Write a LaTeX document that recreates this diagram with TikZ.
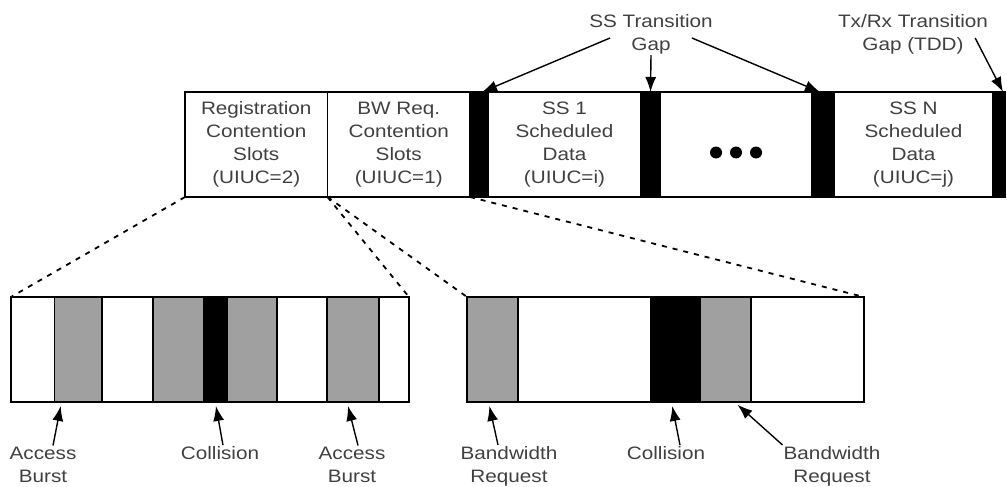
\documentclass[tikz,border=0pt]{standalone}
\usepackage{fontspec}
\setmainfont{Liberation Sans}[FakeStretch=1.15]
\usepackage{xcolor}
\usetikzlibrary{positioning,arrows.meta}

\definecolor{slotgray}{HTML}{A0A0A0}

\begin{document}
\begin{tikzpicture}[
  x=1pt, y=-1pt,
  slot/.style={draw, line width=1.5pt, minimum height=105pt, inner sep=0pt, outer sep=0pt,
               align=center, text=black!75, font=\fontsize{18}{23}\selectfont},
  gap/.style={slot, fill=black},
  lbl/.style={align=center, text=black!75, inner sep=1pt, font=\fontsize{18}{23}\selectfont},
  pointer/.style={-{Latex[length=15pt,width=11pt]}, line width=1.4pt},
  zoomline/.style={line width=1.8pt, dash pattern=on 5pt off 6pt}
]
\useasboundingbox (0,0) rectangle (1007,487);

% uplink subframe
\node[slot, minimum width=142.5pt] (reg) at (256.25,144.5) {Registration\\Contention\\Slots\\(UIUC=2)};
\node[slot, minimum width=142.5pt] (bwreq) at (398.75,144.5) {BW Req.\\Contention\\Slots\\(UIUC=1)};
\node[gap, minimum width=18pt] (gap1) at (479,144.5) {};
\node[slot, minimum width=153pt] (ss1) at (564.5,144.5) {SS 1\\Scheduled\\Data\\(UIUC=i)};
\node[gap, minimum width=19pt] (gap2) at (650.5,144.5) {};
\node[slot, minimum width=152pt] (dots) at (736,144.5) {};
\node[gap, minimum width=22pt] (gap3) at (823,144.5) {};
\node[slot, minimum width=159pt] (ssn) at (913.5,144.5) {SS N\\Scheduled\\Data\\(UIUC=j)};
\node[gap, minimum width=12pt] (gap4) at (999,144.5) {};

\foreach \dx in {-20,0,20}
  \fill ([xshift=\dx pt, yshift=-8pt]dots.center) circle (6pt);

\node[lbl] (sstg) at (651,34) {SS Transition\\Gap};
\node[lbl] (txrx) at (913,34) {Tx/Rx Transition\\Gap (TDD)};

\draw[pointer] ([xshift=22pt,yshift=-4pt]sstg.west) -- ([xshift=3pt]gap1.north);
\draw[pointer] (sstg.south) -- (gap2.north);
\draw[pointer] ([xshift=-22pt,yshift=-4pt]sstg.east) -- ([xshift=-3pt]gap3.north);
\draw[pointer] ([xshift=-14pt,yshift=-4pt]txrx.east) -- ([xshift=4pt]gap4.north);

% registration contention slots
\foreach \l/\r/\c/\nm in {11/54.5/white/a1, 54.5/102/slotgray/a2, 102/153/white/a3,
    153/203.5/slotgray/a4, 203.5/227/black/a5, 227/277/slotgray/a6,
    277/327/white/a7, 327/379/slotgray/a8, 379/409/white/a9}
  \node[slot, fill=\c, anchor=west, minimum width={(\r-\l)*1pt}] (\nm) at (\l,349.5) {};

% bandwidth request contention slots
\foreach \l/\r/\c/\nm in {467/518/slotgray/b1, 518/651/white/b2, 651/700/black/b3,
    700/751/slotgray/b4, 751/864/white/b5}
  \node[slot, fill=\c, anchor=west, minimum width={(\r-\l)*1pt}] (\nm) at (\l,349.5) {};

\draw[zoomline] (reg.south west) -- (a1.north west);
\draw[zoomline] (reg.south east) -- (a9.north east);
\draw[zoomline] (bwreq.south west) -- (b1.north west);
\draw[zoomline] (bwreq.south east) -- (b5.north east);

\node[lbl] (ab1) at (43,464.5) {Access\\Burst};
\node[lbl] (col1) at (220,453) {Collision};
\node[lbl] (ab2) at (352,464.5) {Access\\Burst};
\node[lbl] (bw1) at (509,466) {Bandwidth\\Request};
\node[lbl] (col2) at (666,453) {Collision};
\node[lbl] (bw2) at (832,466) {Bandwidth\\Request};

\draw[pointer, shorten >=4pt] ([xshift=10pt]ab1.north) -- ([xshift=7pt]a2.south west);
\draw[pointer, shorten >=4pt] ([xshift=3pt]col1.north) -- (a5.south);
\draw[pointer, shorten >=4pt] ([xshift=6pt]ab2.north) -- ([xshift=-6pt]a8.south);
\draw[pointer, shorten >=4pt] ([xshift=-11pt]bw1.north) -- ([xshift=-4pt]b1.south);
\draw[pointer, shorten >=4pt] ([xshift=14pt]col2.north) -- ([xshift=-4pt]b3.south);
\draw[pointer, shorten >=4pt] (bw2.north west) -- ([xshift=9pt]b4.south);

\end{tikzpicture}
\end{document}
